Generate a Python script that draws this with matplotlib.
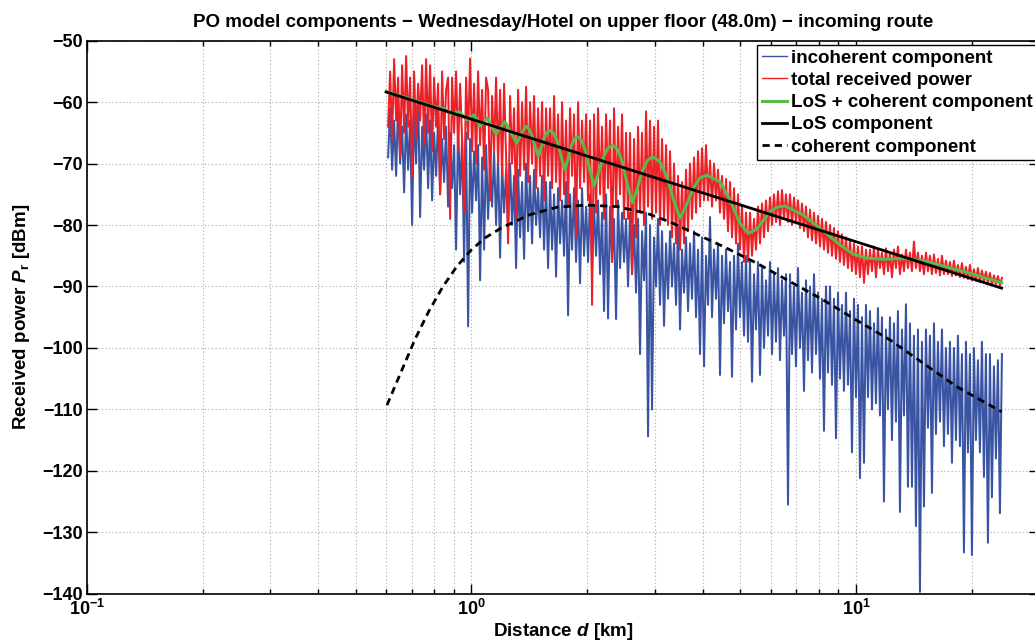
import numpy as np
import matplotlib
matplotlib.use("Agg")
import matplotlib.pyplot as plt
from matplotlib.ticker import FixedLocator, FuncFormatter, LogLocator, NullFormatter, MultipleLocator

# ---------------------------------------------------------------- data
# Measured incoherent component [dBm], uniformly sampled along log-distance
incoherent_dbm = [
    -69, -61, -71, -63, -72, -60, -70, -64, -74.7, -62, -71, -63, -80, -61, -70, -58, -78.7, -64, -71, -62,
    -74, -63, -76, -65, -72, -62, -75, -66, -73, -64, -77, -65, -74, -67, -84, -64, -75, -66, -86, -65,
    -96.5, -66, -78, -68, -76, -67, -89, -69, -84, -67, -79, -70, -77, -68, -80, -69, -85.3, -70, -78, -71,
    -81, -70, -80, -72, -87, -71, -82, -73, -85.5, -70, -81, -72, -83, -71, -80, -74, -82, -72, -84, -73,
    -87, -73, -84, -75, -88.4, -74, -83, -76, -85, -73, -94.7, -75, -84, -74, -86, -76, -89.5, -74, -85, -77,
    -86, -75, -87.4, -77, -85, -76, -88, -78, -94, -75, -95.2, -77, -86, -79, -95.3, -76, -87, -78, -86, -79,
    -90, -78, -88, -80, -91, -79, -101, -81, -89, -78, -114.4, -80, -110, -82, -90, -79, -93, -81, -96.4, -83,
    -92, -81, -90, -83, -93, -80, -97, -84, -91, -82, -94, -83, -92, -81, -95, -84, -101, -82, -103, -85,
    -93, -78.7, -95, -84, -92, -83, -104.4, -85, -96, -84, -94, -86, -104.7, -85, -97, -83, -95, -86, -98, -85,
    -99, -86, -105.5, -88, -97, -86, -104.4, -87, -100, -89, -98, -86, -101, -88, -99, -87, -102, -89, -98, -88,
    -125.5, -88, -101, -90, -103, -87, -100, -91, -107, -89, -102, -90, -104, -88, -101, -91, -105, -92, -113.5, -90,
    -104, -90, -106, -92, -114.7, -91, -105, -93, -107, -91, -106, -94, -117, -92, -108, -93, -121.2, -95, -118.7, -93,
    -108, -94, -110, -96, -109, -93.5, -111, -95, -125, -97, -110, -95, -115, -96, -112, -94, -126.7, -97, -111, -92.9,
    -122.6, -96, -122.6, -98, -129, -97, -139.7, -99, -125.8, -97, -113, -98, -123.6, -96, -114, -99, -112, -97, -116, -100,
    -114, -99, -118.7, -100, -115, -98, -116, -101, -133.3, -99, -117, -101, -133.7, -100, -115, -102, -117, -99, -121, -101,
    -131.7, -101, -124.3, -103, -118, -102, -126.9, -101,
]

# Measured total received power [dBm], same sampling
total_dbm = [
    -64, -55, -66, -53, -63, -56, -69, -54, -65, -52.5, -64, -56, -72, -55, -66, -57, -63, -54, -67, -53,
    -65, -54, -68, -56, -64, -57, -75, -55, -66, -58, -56, -79, -56, -65, -55, -68, -57, -66, -78, -56,
    -66, -52.9, -68, -57, -70, -55, -67, -58, -71, -56, -58, -76, -59, -68, -56, -70, -58, -72, -57, -69,
    -83, -59, -70, -61, -79, -58, -72, -60, -71, -57.5, -73, -60, -70, -59, -74, -61, -72, -60, -76, -61,
    -72, -61, -74, -59, -73, -62, -76, -60, -75, -63, -77, -61, -72, -62, -82, -60, -74, -63, -73, -62,
    -76, -63, -93, -62, -78, -61, -75, -64, -79, -62, -74, -63, -86, -61, -77, -64, -75, -62, -79, -65,
    -79, -65, -88, -66, -82, -64, -78, -65, -80, -61.5, -77, -63, -79, -64, -78, -63, -80, -66, -79, -67,
    -80, -68, -82, -70, -83, -72, -84, -73, -83, -71, -81, -70, -79, -69, -78, -68, -77, -67.5, -76, -67,
    -76, -69.5, -77, -70, -76, -71, -78, -72, -79, -72.5, -81, -73, -82, -74, -83, -75, -84, -77, -86, -78,
    -86, -78, -85, -79, -84, -77, -83, -76.5, -82, -76, -81, -75.5, -80, -75, -79.5, -74.5, -80, -74.3, -79, -75,
    -79.5, -75, -80, -75.5, -79.5, -76, -80.5, -76.5, -81, -77, -82, -77.5, -82.5, -78, -83, -78.5, -83.5, -79, -84, -79.5,
    -84.5, -80, -85, -80.5, -85.5, -81, -86, -81.5, -86.5, -82, -87, -82.5, -87.5, -83, -88, -83.5, -88.5, -83.5, -89.4, -84,
    -88, -84, -87.5, -83.5, -88.5, -84, -87, -84.5, -88, -83.8, -87.5, -84.5, -88.5, -84, -87, -83.5, -88, -84.8, -87.5, -84,
    -87, -84.5, -87.5, -82.7, -87, -84.5, -87.5, -85, -88, -84.5, -87.5, -85, -88, -84.8, -87.8, -85.5, -88.2, -85, -88, -85.8,
    -88, -86, -88.3, -85.8, -88.2, -86.5, -88.5, -86.2, -88.6, -86.8, -88.8, -86.5, -89, -87.2, -89.1, -87, -89.3, -87.4, -89.2, -87.6,
    -89.4, -87.8, -89.8, -88.2, -89.6, -88.3, -89.9, -88.6,
]
route_start_km, route_end_km = 0.607, 23.97

# LoS + coherent component
los_coh_km = [
    0.600, 0.692, 0.780, 0.848, 0.888, 0.930, 0.972, 1.015, 1.052, 1.099,
    1.158, 1.222, 1.311, 1.383, 1.410, 1.436, 1.464, 1.492, 1.518, 1.545,
    1.572, 1.600, 1.636, 1.674, 1.712, 1.750, 1.783, 1.816, 1.850, 1.884,
    1.932, 1.981, 2.031, 2.082, 2.142, 2.202, 2.265, 2.329, 2.399, 2.470,
    2.544, 2.620, 2.701, 2.785, 2.871, 2.960, 3.083, 3.212, 3.347, 3.486,
    3.628, 3.776, 3.929, 4.090, 4.429, 4.702, 4.992, 5.247, 5.517, 5.975,
    6.232, 6.537, 7.295, 8.222, 9.087, 9.840, 10.66, 11.78, 13.28, 14.97,
    16.87, 19.01, 21.44, 23.93,
]
los_coh_dbm = [
    -58.30, -59.45, -60.55, -61.05, -61.95, -61.55, -62.90, -62.05, -63.90, -62.60,
    -65.20, -63.20, -66.70, -63.90, -64.24, -65.37, -67.23, -68.80, -67.46, -65.86,
    -64.89, -64.60, -65.05, -66.52, -68.95, -71.00, -69.27, -67.22, -65.98, -65.60,
    -66.16, -68.00, -71.04, -73.60, -71.49, -68.98, -67.46, -67.00, -67.66, -69.82,
    -73.39, -76.40, -74.00, -71.15, -69.43, -68.90, -69.60, -71.90, -75.70, -78.90,
    -76.65, -73.97, -72.35, -71.86, -72.95, -75.93, -79.72, -81.35, -80.70, -77.83,
    -77.10, -76.90, -78.37, -80.97, -83.25, -84.72, -85.37, -85.58, -85.42, -85.80,
    -86.67, -87.53, -88.51, -89.39,
]

# LoS component (free-space line)
los_km = [0.600, 23.93]
los_dbm = [-58.35, -90.27]

# Coherent component
coh_km = [
    0.603, 0.656, 0.713, 0.775, 0.843, 0.917, 0.997, 1.084, 1.201, 1.420,
    1.669, 1.997, 2.390, 2.861, 3.283, 3.701, 4.518, 5.517, 6.736, 8.222,
    10.04, 12.26, 14.97, 18.28, 23.93,
]
coh_dbm = [
    -109.3, -103.9, -98.6, -94.0, -90.0, -86.7, -84.1, -82.1, -80.4, -78.3,
    -77.1, -76.75, -77.0, -78.1, -79.5, -81.0, -83.5, -86.2, -89.2, -92.2,
    -95.5, -98.7, -102.5, -106.3, -110.4,
]

series_labels = [
    "incoherent component",
    "total received power",
    "LoS + coherent component",
    "LoS component",
    "coherent component",
]

# ---------------------------------------------------------------- style
plt.rcParams["font.family"] = ["Liberation Sans", "DejaVu Sans"]
plt.rcParams["font.weight"] = "bold"
plt.rcParams["axes.unicode_minus"] = True
plt.rcParams["mathtext.fontset"] = "custom"
plt.rcParams["mathtext.rm"] = "Liberation Sans:bold"
plt.rcParams["mathtext.bf"] = "Liberation Sans:bold"
plt.rcParams["mathtext.it"] = "Liberation Sans:italic:bold"

BLUE = "#3a54a4"
RED = "#ec2027"
GREEN = "#5cb848"
GRID = "#a8a8a8"

W, H = 1035, 644
fig = plt.figure(figsize=(W / 100, H / 100), dpi=100)
ax_left, ax_right, ax_top, ax_bottom = 87, 1039.4, 40.7, 593.7
ax = fig.add_axes([ax_left / W, 1 - ax_bottom / H,
                   (ax_right - ax_left) / W, (ax_bottom - ax_top) / H])

d_inc = np.geomspace(route_start_km, route_end_km, len(incoherent_dbm))
d_tot = np.geomspace(route_start_km, route_end_km, len(total_dbm))

ax.plot(d_inc, incoherent_dbm, color=BLUE, lw=1.45, label=series_labels[0])
ax.plot(d_tot, total_dbm, color=RED, lw=1.45, label=series_labels[1])
ax.plot(los_coh_km, los_coh_dbm, color=GREEN, lw=2.2, label=series_labels[2])
ax.plot(los_km, los_dbm, color="black", lw=2.0, label=series_labels[3])
ax.plot(coh_km, coh_dbm, color="black", lw=2.0, ls=(0, (2.6, 1.8)),
        label=series_labels[4])

ax.set_xscale("log")
ax.set_xlim(0.1, 30)
ax.set_ylim(-140, -50)
ax.yaxis.set_major_locator(MultipleLocator(10))
ax.xaxis.set_major_locator(FixedLocator([0.1, 1, 10]))
ax.xaxis.set_minor_locator(LogLocator(base=10, subs=np.arange(2, 10), numticks=20))
ax.xaxis.set_minor_formatter(NullFormatter())
ax.xaxis.set_major_formatter(
    FuncFormatter(lambda v, pos: r"$\mathrm{10^{%d}}$" % int(round(np.log10(v)))))

ax.set_axisbelow(True)
ax.grid(True, which="major", axis="both", ls=(0, (1, 2.2)), color=GRID, lw=0.8)
ax.grid(True, which="minor", axis="x", ls=(0, (1, 2.2)), color=GRID, lw=0.8)

ax.tick_params(which="both", direction="in", top=True, right=True,
               labelsize=13, width=1.0, colors="black")
ax.tick_params(which="major", length=7)
ax.tick_params(which="minor", length=3.5)
ax.tick_params(axis="x", which="major", pad=4)
ax.tick_params(axis="y", which="major", pad=3)
for lab in ax.get_yticklabels():
    lab.set_fontweight("bold")
for sp in ax.spines.values():
    sp.set_linewidth(1.2)

ax.set_title("PO model components \u2212 Wednesday/Hotel on upper floor (48.0m) \u2212 incoming route",
             fontsize=13.5, fontweight="bold", pad=10)
ax.set_xlabel(r"Distance $\mathit{d}$ [km]", fontsize=13.5, fontweight="bold")
ax.set_ylabel(r"Received power $\mathit{P}_{\mathrm{r}}$ [dBm]", fontsize=13.5, fontweight="bold")
ax.xaxis.set_label_coords(0.5, -(621 - ax_bottom) / (ax_bottom - ax_top))
ax.yaxis.set_label_coords(-(87 - 32) / (ax_right - ax_left), 0.5)

leg = ax.legend(loc="upper left", bbox_to_anchor=(757 / W, 1 - 45 / H),
                bbox_transform=fig.transFigure, borderaxespad=0,
                prop={"size": 13.5, "weight": "bold"}, frameon=True, fancybox=False,
                framealpha=1, edgecolor="black", borderpad=0.25, labelspacing=0.27,
                handlelength=1.35, handletextpad=0.22)
leg.get_frame().set_linewidth(1.0)
# thin sample lines for the two measured traces
for handle in leg.get_lines()[:2]:
    handle.set_linewidth(1.0)

fig.savefig("out.png", dpi=100)
